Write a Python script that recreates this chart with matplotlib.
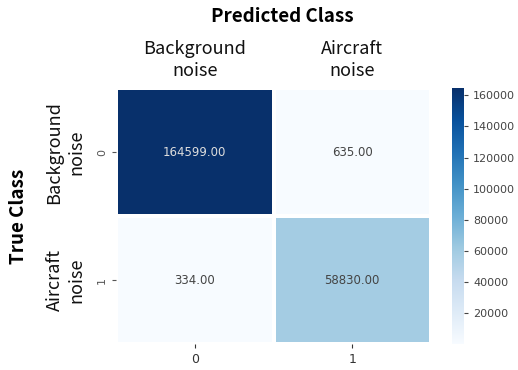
import numpy as np
import matplotlib
matplotlib.use("Agg")
import matplotlib.pyplot as plt
import seaborn as sns

# --- data ------------------------------------------------------
class_names = ["Background\nnoise", "Aircraft\nnoise"]
tick_labels = ["0", "1"]
cm_values = np.array([[164599, 635],
                      [334, 58830]])
cbar_ticks = [20000, 40000, 60000, 80000, 100000, 120000, 140000, 160000]

label_font = ["Noto Sans CJK KR", "DejaVu Sans"]

fig = plt.figure(figsize=(5.18, 3.70), dpi=100)
ax = fig.add_axes([0.224, 0.070, 0.608, 0.692])
cax = fig.add_axes([0.873, 0.070, 0.023, 0.692])

sns.heatmap(cm_values, ax=ax, cbar_ax=cax, cmap="Blues", annot=True, fmt=".2f",
            linewidths=1.5, linecolor="white",
            annot_kws={"fontsize": 8.5},
            xticklabels=tick_labels, yticklabels=tick_labels)

# softer annotation colours: light on dark cells, grey on pale ones
mid = (cm_values.max() + cm_values.min()) / 2
for t, v in zip(ax.texts, cm_values.ravel()):
    t.set_color("#dddddd" if v > mid else "#444444")

ax.tick_params(axis="x", labelsize=9, colors="#333333", length=3)
ax.tick_params(axis="y", labelsize=8, colors="#555555", length=3)
for lab in ax.get_yticklabels():
    lab.set_rotation(90)
    lab.set_va("center")

cbar = ax.collections[0].colorbar
cbar.set_ticks(cbar_ticks)
cbar.ax.tick_params(labelsize=8, colors="#444444", length=3)
cbar.outline.set_visible(False)

# class names on top and at the left
for i, name in enumerate(class_names):
    ax.text(i + 0.5, -0.22, name, ha="center", va="center", fontsize=13,
            family=label_font, color="#111111", linespacing=1.3)
    ax.text(-0.32, i + 0.5, name, ha="center", va="center", fontsize=13,
            rotation=90, family=label_font, color="#111111", linespacing=1.3)

fig.text(0.545, 0.955, "Predicted Class", ha="center", va="center",
         fontsize=13.5, fontweight="bold", family=label_font)
fig.text(0.035, 0.415, "True Class", ha="center", va="center", rotation=90,
         fontsize=13.5, fontweight="bold", family=label_font)

fig.savefig("out.png", dpi=100)
